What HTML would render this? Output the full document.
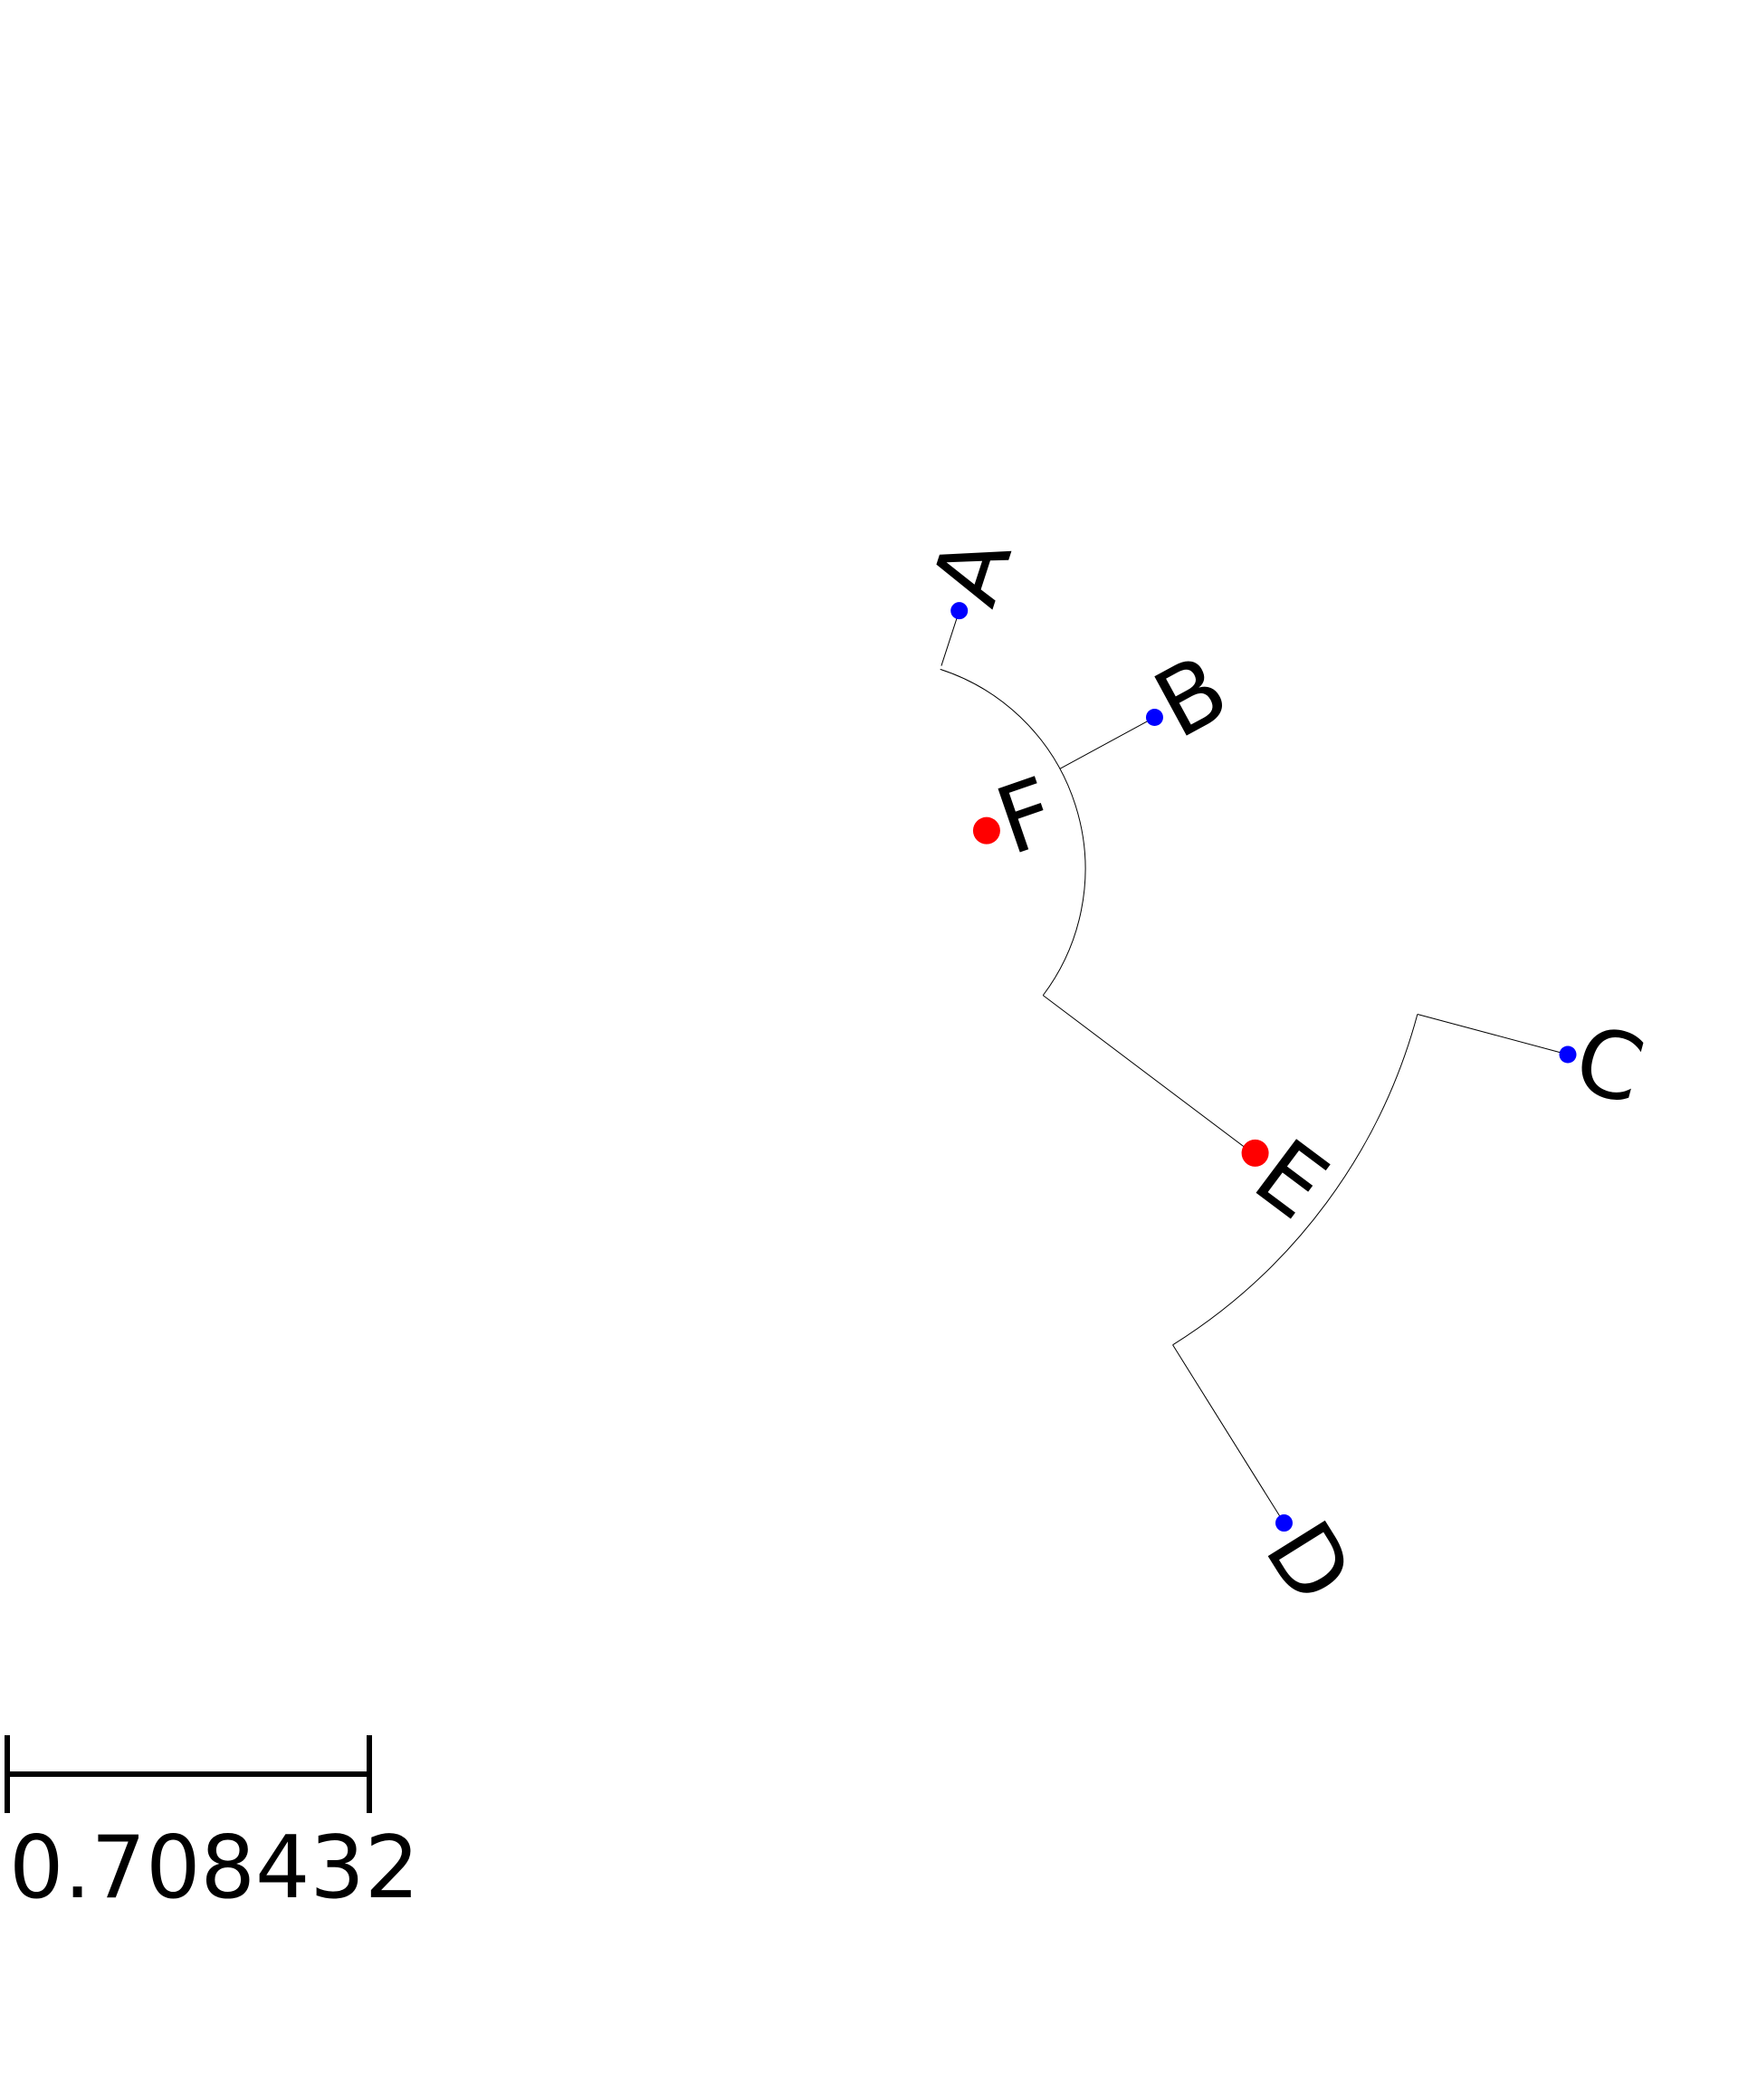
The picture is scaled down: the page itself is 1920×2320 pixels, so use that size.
<!DOCTYPE html>
<html><head><meta charset="utf-8"><style>
html,body{margin:0;padding:0;background:#fff;}
svg{display:block;}
text{font-family:"DejaVu Sans","Liberation Sans",sans-serif;}
</style></head><body>
<svg id="tree" width="1920" height="2320" viewBox="0 0 1920 2320" xmlns="http://www.w3.org/2000/svg">
<g id="branches"></g>
<g id="nodes"></g>
<g>
<line x1="8" y1="1960" x2="408" y2="1960" stroke="#000" stroke-width="6"/>
<line x1="8" y1="1917" x2="8" y2="2003" stroke="#000" stroke-width="6"/>
<line x1="408" y1="1917" x2="408" y2="2003" stroke="#000" stroke-width="6"/>
<text x="10" y="2096" font-size="95" fill="#000">0.708432</text>
</g>
</svg>
<script>
const leafNames = ["A","B","C","D"];
const leafAngles = [-72, -28.5, 15, 58];
const leafBaseRadius = [236, 232, 620, 620];
const leafRadius = [300, 351, 792, 852];
const innerNames = ["F","E"];
const innerAngles = [-19, 36.8];
const innerRadius = [130, 524];
const innerColor = ["#ff0000","#ff0000"];
const arcRadius = [232, 620];
const arcStart = [-72, 15];
const arcEnd = [37, 58];
const stemAngle = 37;
const stemFrom = 232;
const stemTo = 524;

const cx = 967, cy = 960;
const NS = "http://www.w3.org/2000/svg";
function px(a, r){ const t = a*Math.PI/180; return [cx + r*Math.cos(t), cy + r*Math.sin(t)]; }
const gB = document.getElementById('branches');
const gN = document.getElementById('nodes');

function arc(r, a0, a1, name){
  const p0 = px(a0, r), p1 = px(a1, r);
  const large = Math.abs(a1-a0) > 180 ? 1 : 0;
  const p = document.createElementNS(NS,'path');
  p.setAttribute('d', `M${p0[0]},${p0[1]} A${r},${r} 0 ${large} 1 ${p1[0]},${p1[1]}`);
  p.setAttribute('fill','none'); p.setAttribute('stroke','#000'); p.setAttribute('stroke-width','1');
  
  
  gB.appendChild(p);
}
function seg(a0, r0, a1, r1, name){
  const p0 = px(a0, r0), p1 = px(a1, r1);
  const l = document.createElementNS(NS,'line');
  l.setAttribute('x1',p0[0]); l.setAttribute('y1',p0[1]); l.setAttribute('x2',p1[0]); l.setAttribute('y2',p1[1]);
  l.setAttribute('stroke','#000'); l.setAttribute('stroke-width','1');
  
  
  gB.appendChild(l);
}
function node(a, r, rad, color, label, name){
  const p = px(a, r);
  const c = document.createElementNS(NS,'circle');
  c.setAttribute('cx',p[0]); c.setAttribute('cy',p[1]); c.setAttribute('r',rad); c.setAttribute('fill',color);
  
  
  gN.appendChild(c);
  const t = document.createElementNS(NS,'text');
  t.setAttribute('x', rad+2); t.setAttribute('y', 0);
  t.setAttribute('font-size','102'); t.setAttribute('dominant-baseline','central');
  t.setAttribute('transform', `translate(${p[0]},${p[1]}) rotate(${a})`);
  t.textContent = label;
  
  
  gN.appendChild(t);
}
arc(arcRadius[0], arcStart[0], arcEnd[0], 'branch-arc-f');
arc(arcRadius[1], arcStart[1], arcEnd[1], 'branch-arc-e');
seg(stemAngle, stemFrom, stemAngle, stemTo, 'branch-e-stem');
for (let i=0;i<leafNames.length;i++){
  seg(leafAngles[i], leafBaseRadius[i], leafAngles[i], leafRadius[i], 'branch-' + leafNames[i].toLowerCase());
}
for (let i=0;i<innerNames.length;i++){
  node(innerAngles[i], innerRadius[i], 15, innerColor[i], innerNames[i], 'node-' + innerNames[i].toLowerCase());
}
for (let i=0;i<leafNames.length;i++){
  node(leafAngles[i], leafRadius[i], 9.5, '#0000ff', leafNames[i], 'leaf-' + leafNames[i].toLowerCase());
}
</script>
</body></html>
